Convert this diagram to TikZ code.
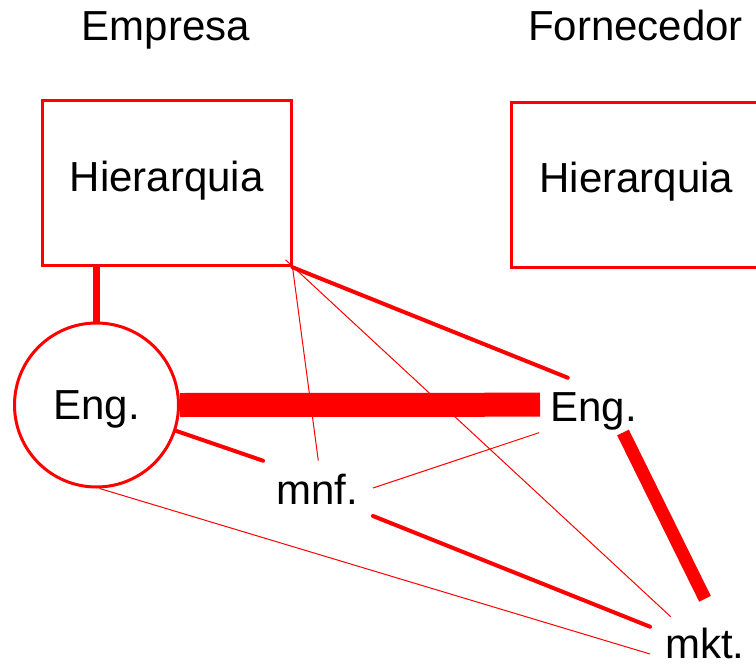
\documentclass[tikz,border=0pt]{standalone}
\usepackage{fontspec}
\setmainfont{Liberation Sans}
\usetikzlibrary{calc}
\begin{document}
\begin{tikzpicture}[x=1pt,y=-1pt,
  every node/.style={font=\fontsize{42}{50}\selectfont, text=black},
  boxnode/.style={draw=red, line width=3pt, minimum width=248.7pt, minimum height=165pt, inner sep=0pt, text height=30pt, text depth=14.6pt},
  circnode/.style={circle, draw=red, line width=3pt, minimum size=164pt, inner sep=0pt, text height=28.6pt, text depth=0pt},
  lbl/.style={anchor=base, inner sep=0pt},
  linkthin/.style={draw=red, line width=1pt},
  linkmed/.style={draw=red, line width=4pt, line cap=round},
  linkbar/.style={draw=red, line width=24pt},
  linkthick/.style={draw=red, line width=13pt},
  linkvert/.style={draw=red, line width=7.3pt}
]
\useasboundingbox (0,0) rectangle (756,664);
\clip (0,0) rectangle (756,664);

\node[lbl] (emp) at (166,40) {Empresa};
\node[lbl] (forn) at (635.5,40) {Fornecedor};

\node[boxnode] (hl) at (166.7,183.3) {Hierarquia};
\node[boxnode] (hr) at (636.3,184.5) {Hierarquia};

\node[circnode] (circ) at (96.5,405) {Eng.};
\node[lbl] (engR) at (593.7,421) {Eng.};
\node[lbl] (mnf) at (317.5,504) {mnf.};
\node[lbl] (mkt) at (704.7,658) {mkt.};

% connectors
\draw[linkvert] (circ.north |- hl.south) -- (circ.north);
\draw[linkbar] (circ.east) -- ($(engR.base)+(-53.7,-16.3)$);
\draw[linkmed] (hl.south east) -- ($(engR.base)+(-26,-43.3)$);
\draw[linkthin] (hl.south east) -- ($(mnf.base)+(0.8,-43.3)$);
\draw[linkthin] ($(hl.south east)+(-7,-7.5)$) -- ($(mkt.base)+(-34,-41.3)$);
\draw[linkthin] ($(engR.base)+(-54.7,11.7)$) -- ($(mnf.base)+(55.5,-16)$);
\draw[linkmed] (circ.-18) -- ($(mnf.base)+(-54.5,-43.3)$);
\draw[linkmed] ($(mnf.base)+(55.5,12)$) -- ($(mkt.base)+(-54.7,-31.3)$);
\draw[linkthin] (circ.-88) -- ($(mkt.base)+(-54.7,-4)$);
\draw[linkthick] ($(engR.base)+(29.3,11.5)$) -- ($(mkt.base)+(0.3,-59.2)$);
\end{tikzpicture}
\end{document}
